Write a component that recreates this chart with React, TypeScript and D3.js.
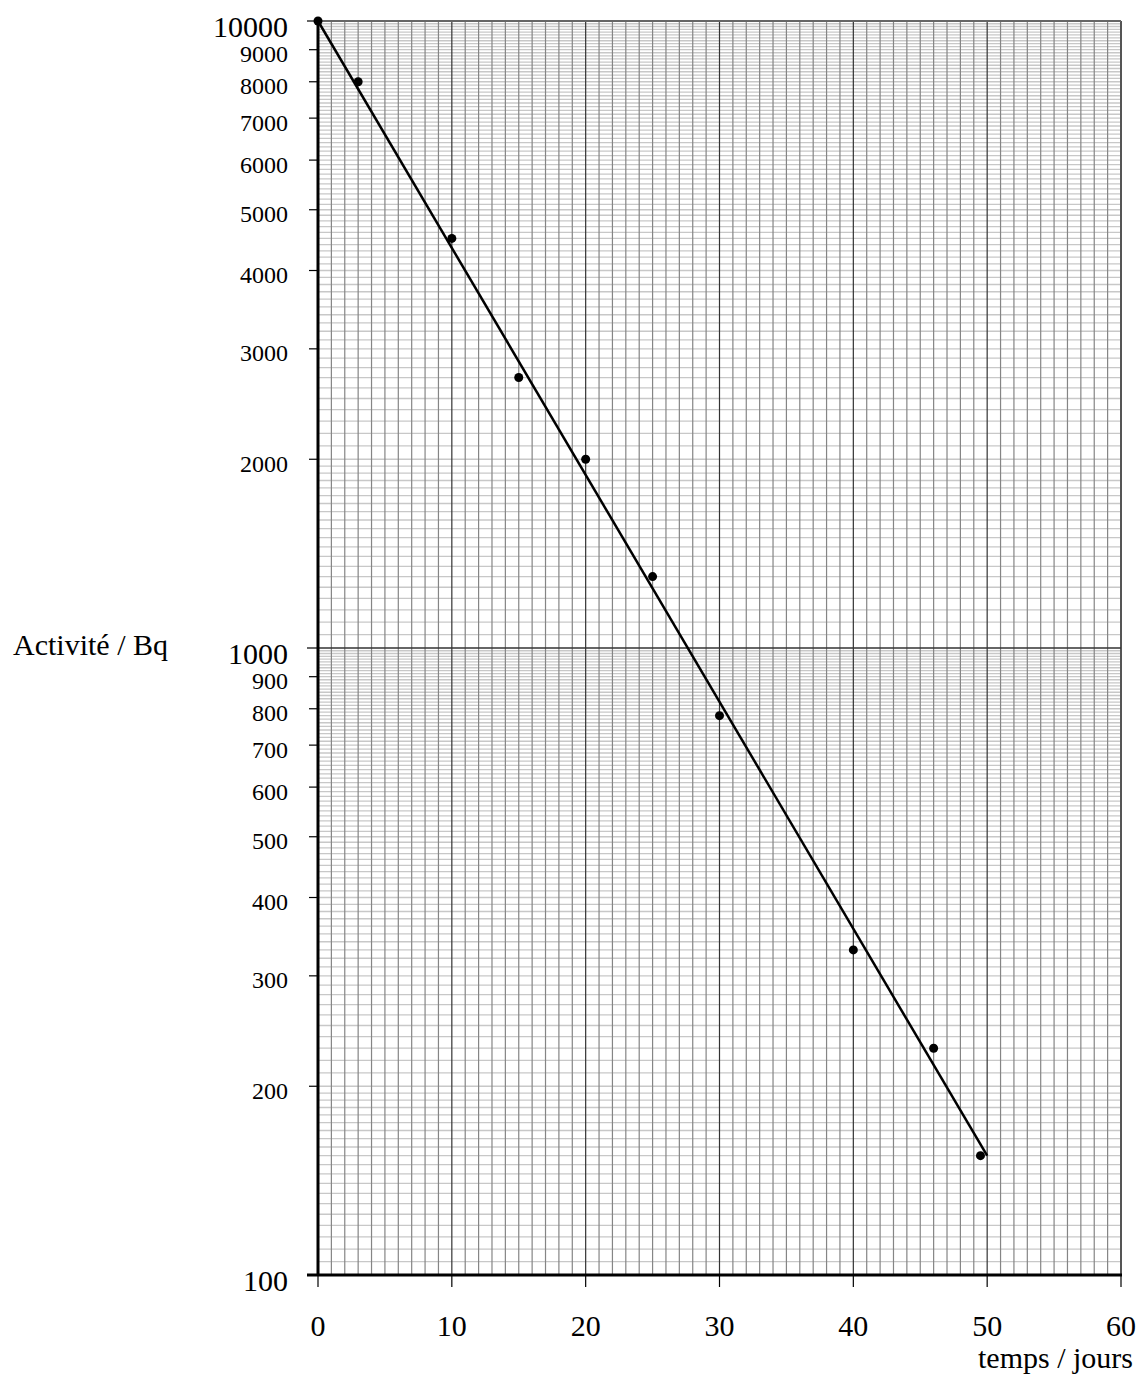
import React from "react";
import * as d3 from "d3";

const W = 1141;
const H = 1378;

// data
const timeDays = [0, 3, 10, 15, 20, 25, 30, 40, 46, 49.5];
const activityBq = [10000, 8000, 4500, 2700, 2000, 1300, 780, 330, 230, 155];
const fitLineT = [0, 50];
const fitLineA = [10000, 155];
const xTicks = [0, 10, 20, 30, 40, 50, 60];
const yMajorLabels = [10000, 1000, 100];
const yMinorLabels = [9000, 8000, 7000, 6000, 5000, 4000, 3000, 2000, 900, 800, 700, 600, 500, 400, 300, 200];

const FONT = "'Liberation Serif', 'Times New Roman', serif";

export default function App() {
  const x = d3.scaleLinear().domain([0, 60]).range([318, 1121]);
  const y = d3.scaleLog().domain([100, 10000]).range([1275, 21]);

  // log-paper horizontal grid: step 0.05 in [1,2), 0.1 in [2,10)
  const hGrid: number[] = [];
  for (const dec of [100, 1000]) {
    for (let k = 0; k < 20; k++) hGrid.push(dec * (1 + k * 0.05));
    for (let k = 0; k < 80; k++) hGrid.push(dec * (2 + k * 0.1));
  }
  const vGrid = d3.range(1, 60).filter((v) => v % 10 !== 0);

  const line = d3
    .line<number>()
    .x((_, i) => x(fitLineT[i]))
    .y((_, i) => y(fitLineA[i]));

  return (
    <svg
      width={W}
      height={H}
      style={{ position: "absolute", left: 0, top: 0, background: "#fff" }}
      fontFamily={FONT}
    >
      <rect x={0} y={0} width={W} height={H} fill="#fff" />
      {/* horizontal minor grid */}
      {hGrid
        .filter((v) => v > 100 && v !== 1000 && v < 10000)
        .map((v, i) => (
          <line
            key={"h" + i}
            x1={x(0)}
            x2={x(60)}
            y1={y(v)}
            y2={y(v)}
            stroke="#c8c8c8"
            strokeWidth={1.3}
          />
        ))}
      {/* vertical minor grid */}
      {vGrid.map((v) => (
        <line
          key={"v" + v}
          x1={x(v)}
          x2={x(v)}
          y1={y(10000)}
          y2={y(100)}
          stroke="#858585"
          strokeWidth={1.2}
        />
      ))}
      {/* vertical major grid */}
      {[10, 20, 30, 40, 50].map((v) => (
        <line
          key={"vm" + v}
          x1={x(v)}
          x2={x(v)}
          y1={y(10000)}
          y2={y(100)}
          stroke="#333"
          strokeWidth={1.2}
        />
      ))}
      {/* right border */}
      <line x1={x(60)} x2={x(60)} y1={y(10000)} y2={y(100)} stroke="#555" strokeWidth={2} />
      {/* top border */}
      <line x1={307} x2={x(60)} y1={y(10000)} y2={y(10000)} stroke="#666" strokeWidth={2} />
      {/* 1000 line */}
      <line x1={307} x2={x(60)} y1={y(1000)} y2={y(1000)} stroke="#333" strokeWidth={1.5} />
      {/* bottom axis */}
      <line x1={307} x2={x(60) + 1} y1={y(100)} y2={y(100)} stroke="#000" strokeWidth={3} />
      {xTicks.map((t) => (
        <line key={"xt" + t} x1={x(t)} x2={x(t)} y1={y(100)} y2={y(100) + 12} stroke="#000" strokeWidth={1.2} />
      ))}
      {/* left axis */}
      <line x1={x(0)} x2={x(0)} y1={y(10000)} y2={y(100)} stroke="#000" strokeWidth={3} />
      {yMinorLabels.map((v) => (
        <line key={"yt" + v} x1={309} x2={x(0)} y1={y(v)} y2={y(v)} stroke="#000" strokeWidth={1.2} />
      ))}
      {/* fit line */}
      <path d={line(fitLineT) || ""} fill="none" stroke="#000" strokeWidth={2.5} />
      {/* points */}
      {timeDays.map((t, i) => (
        <circle key={"p" + i} cx={x(t)} cy={y(activityBq[i])} r={4.5} fill="#000" />
      ))}
      {/* y labels */}
      {yMajorLabels.map((v) => (
        <text key={"yl" + v} x={288} y={y(v) + 16} textAnchor="end" fontSize={30}>
          {v}
        </text>
      ))}
      {yMinorLabels.map((v) => (
        <text key={"ys" + v} x={288} y={y(v) + 12.5} textAnchor="end" fontSize={24}>
          {v}
        </text>
      ))}
      {/* x labels */}
      {xTicks.map((t) => (
        <text key={"xl" + t} x={x(t)} y={1336} textAnchor="middle" fontSize={30}>
          {t}
        </text>
      ))}
      <text x={1133} y={1368} textAnchor="end" fontSize={30}>
        temps / jours
      </text>
      <text x={13} y={655} fontSize={30}>
        Activité / Bq
      </text>
    </svg>
  );
}
